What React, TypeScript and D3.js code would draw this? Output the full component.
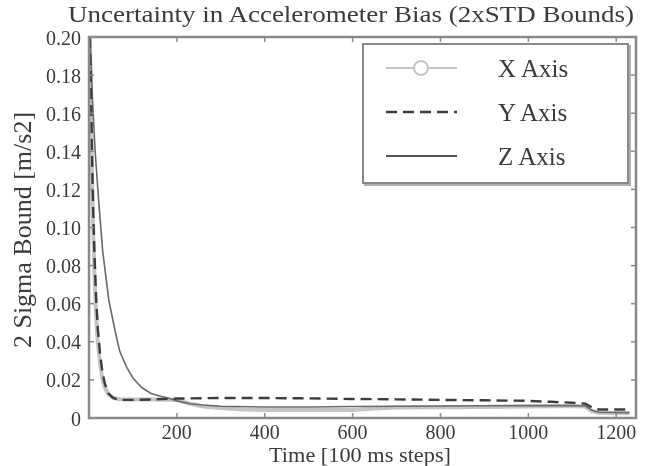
import React from "react";
import * as d3 from "d3";

const titleText = "Uncertainty in Accelerometer Bias (2xSTD Bounds)";
const xLabel = "Time [100 ms steps]";
const yLabel = "2 Sigma Bound [m/s2]";
const seriesNames = ["X Axis", "Y Axis", "Z Axis"];

const xTicks = [200, 400, 600, 800, 1000, 1200];
const yTicks = [0, 0.02, 0.04, 0.06, 0.08, 0.1, 0.12, 0.14, 0.16, 0.18, 0.2];
const yTickLabels = ["0", "0.02", "0.04", "0.06", "0.08", "0.10", "0.12", "0.14", "0.16", "0.18", "0.20"];

const timeX = [2, 4, 6, 8, 10, 13, 16, 20, 25, 30, 36, 44, 55, 70, 100, 150, 200, 230, 260, 300, 350, 400, 500, 600, 650, 700, 800, 900, 1000, 1100, 1130, 1145, 1160, 1230];
const valuesX = [0.2, 0.17, 0.14, 0.115, 0.095, 0.072, 0.055, 0.04, 0.029, 0.021, 0.016, 0.0125, 0.0105, 0.0098, 0.0097, 0.0097, 0.0095, 0.0075, 0.006, 0.0052, 0.0045, 0.0042, 0.0042, 0.0042, 0.005, 0.0055, 0.0057, 0.0058, 0.006, 0.0062, 0.006, 0.0035, 0.0028, 0.0025];

const timeY = [2, 4, 6, 8, 10, 13, 16, 20, 25, 30, 36, 44, 55, 70, 100, 150, 200, 300, 400, 500, 600, 700, 800, 900, 1000, 1050, 1100, 1130, 1145, 1160, 1230];
const valuesY = [0.2, 0.175, 0.15, 0.125, 0.105, 0.082, 0.064, 0.047, 0.034, 0.025, 0.018, 0.013, 0.0105, 0.0095, 0.0095, 0.0098, 0.0102, 0.0105, 0.0105, 0.0103, 0.01, 0.0098, 0.0095, 0.0093, 0.009, 0.0085, 0.008, 0.0075, 0.0055, 0.0045, 0.0045];

const timeZ = [2, 5, 8, 14, 22, 31, 45, 60, 70, 85, 100, 120, 140, 160, 180, 200, 230, 260, 300, 400, 500, 600, 700, 800, 900, 1000, 1100, 1130, 1145, 1160, 1230];
const valuesZ = [0.2, 0.185, 0.167, 0.14, 0.114, 0.088, 0.062, 0.045, 0.035, 0.027, 0.021, 0.016, 0.013, 0.0115, 0.0105, 0.009, 0.0075, 0.0068, 0.0062, 0.0058, 0.0058, 0.006, 0.0062, 0.0063, 0.0064, 0.0065, 0.0065, 0.0063, 0.004, 0.003, 0.0028];

const W = 645;
const H = 466;
const left = 89;
const right = 636;
const top = 37;
const bottom = 418;

export default function App() {
  const x = d3.scaleLinear().domain([0, 1245]).range([left, right]);
  const y = d3.scaleLinear().domain([0, 0.2]).range([bottom, top]);
  const line = d3
    .line<[number, number]>()
    .x((d) => x(d[0]))
    .y((d) => y(d[1]));
  const zip = (t: number[], v: number[]) => t.map((tt, i) => [tt, v[i]] as [number, number]);

  const font = "'Liberation Serif', 'DejaVu Serif', serif";
  const textColor = "#3a3a3a";
  const axisColor = "#8a8a8a";
  const tickLen = 5;

  const legX = 363;
  const legY = 44;
  const legW = 265;
  const legH = 139;
  const rows = [68, 112, 156];

  return (
    <svg
      width={W}
      height={H}
      style={{ position: "absolute", left: 0, top: 0, background: "#fff" }}
      fontFamily={font}
    >
      <defs>
        <filter id="soft" x="-5%" y="-5%" width="110%" height="110%">
          <feGaussianBlur stdDeviation={0.45} />
        </filter>
      </defs>
      <rect x={0} y={0} width={W} height={H} fill="#fff" />
      <g filter="url(#soft)">
        {/* series */}
        <path d={line(zip(timeX, valuesX)) || ""} fill="none" stroke="#c4c4c4" strokeWidth={4} />
        <path d={line(zip(timeZ, valuesZ)) || ""} fill="none" stroke="#6a6a6a" strokeWidth={1.6} />
        <path
          d={line(zip(timeY, valuesY)) || ""}
          fill="none"
          stroke="#3c3c3c"
          strokeWidth={2.4}
          strokeDasharray="11 6"
        />
        {/* frame */}
        <rect x={left} y={top} width={right - left} height={bottom - top} fill="none" stroke={axisColor} strokeWidth={2.5} />
        {xTicks.map((t) => (
          <g key={"xt" + t}>
            <line x1={x(t)} x2={x(t)} y1={bottom} y2={bottom - tickLen} stroke={axisColor} strokeWidth={1.5} />
            <line x1={x(t)} x2={x(t)} y1={top} y2={top + tickLen} stroke={axisColor} strokeWidth={1.5} />
            <text x={x(t)} y={bottom + 21} textAnchor="middle" fontSize={20} fill={textColor}>
              {t}
            </text>
          </g>
        ))}
        {yTicks.map((t, i) => (
          <g key={"yt" + t}>
            <line x1={left} x2={left + tickLen} y1={y(t)} y2={y(t)} stroke={axisColor} strokeWidth={1.5} />
            <line x1={right} x2={right - tickLen} y1={y(t)} y2={y(t)} stroke={axisColor} strokeWidth={1.5} />
            <text x={left - 8} y={y(t) + 7.5} textAnchor="end" fontSize={20} fill={textColor}>
              {yTickLabels[i]}
            </text>
          </g>
        ))}
        {/* title and labels */}
        <text
          x={351}
          y={21.5}
          textAnchor="middle"
          fontSize={24}
          textLength={566}
          lengthAdjust="spacingAndGlyphs"
          fill={textColor}
        >
          {titleText}
        </text>
        <text
          x={360}
          y={461.5}
          textAnchor="middle"
          fontSize={20.5}
          textLength={182}
          lengthAdjust="spacingAndGlyphs"
          fill={textColor}
        >
          {xLabel}
        </text>
        <text
          transform={`translate(31, 230) rotate(-90)`}
          textAnchor="middle"
          fontSize={26}
          fill={textColor}
        >
          {yLabel}
        </text>
        {/* legend */}
        <rect x={legX + 2} y={legY + 2} width={legW} height={legH} fill="none" stroke="#b0b0b0" strokeWidth={2} />
        <rect x={legX} y={legY} width={legW} height={legH} fill="#fff" stroke="#888" strokeWidth={2} />
        <line x1={386} x2={457} y1={rows[0]} y2={rows[0]} stroke="#c4c4c4" strokeWidth={2} />
        <circle cx={421} cy={rows[0]} r={7} fill="#fff" stroke="#c4c4c4" strokeWidth={2} />
        <line x1={386} x2={457} y1={rows[1]} y2={rows[1]} stroke="#3c3c3c" strokeWidth={2.4} strokeDasharray="11 6" />
        <line x1={386} x2={457} y1={rows[2]} y2={rows[2]} stroke="#555" strokeWidth={2} />
        {seriesNames.map((n, i) => (
          <text key={n} x={498} y={rows[i] + 9} fontSize={25} fill={textColor}>
            {n}
          </text>
        ))}
      </g>
    </svg>
  );
}
